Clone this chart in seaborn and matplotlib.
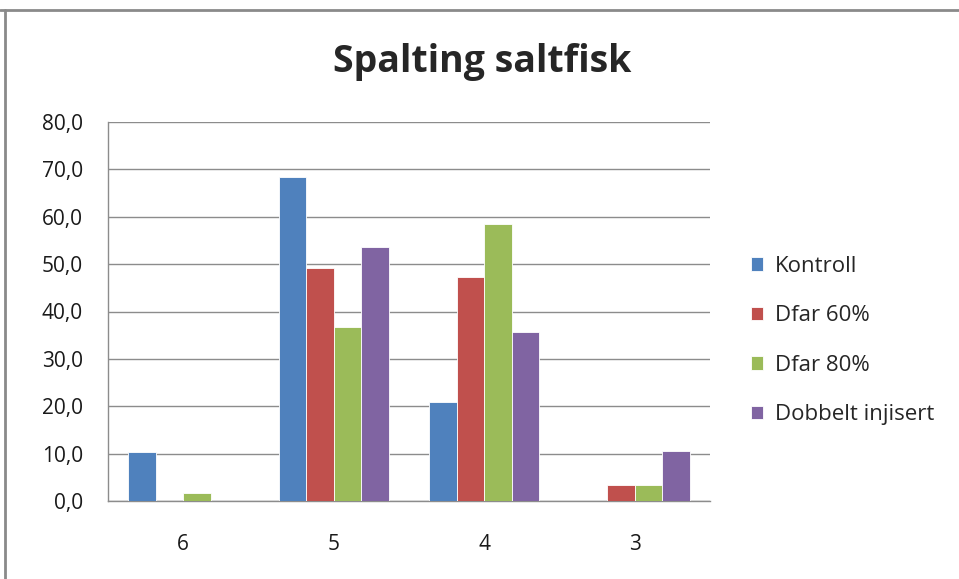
import numpy as np
import pandas as pd
import matplotlib.pyplot as plt
import seaborn as sns
from matplotlib.lines import Line2D
from matplotlib.ticker import FuncFormatter

sns.set_theme(style="white")
plt.rcParams['font.family'] = ['Open Sans', 'DejaVu Sans']

# values
categories = ["6", "5", "4", "3"]
kontroll = [10.4, 68.4, 20.9, 0.0]
dfar60 = [0.0, 49.1, 47.2, 3.3]
dfar80 = [1.6, 36.7, 58.4, 3.3]
dobbelt = [0.0, 53.6, 35.6, 10.6]
series_names = ["Kontroll", "Dfar 60%", "Dfar 80%", "Dobbelt injisert"]
colors = ["#4F81BD", "#C0504D", "#9BBB59", "#8064A2"]

rows = []
for name, vals in zip(series_names, [kontroll, dfar60, dfar80, dobbelt]):
    for c, v in zip(categories, vals):
        rows.append({"kategori": c, "verdi": v, "serie": name})
df = pd.DataFrame(rows)

fig = plt.figure(figsize=(9.59, 5.79), dpi=100)
ax = fig.add_axes([108 / 959, 1 - 501 / 579, 602 / 959, 379 / 579])

sns.barplot(data=df, x="kategori", y="verdi", hue="serie", order=categories,
            hue_order=series_names, palette=colors, saturation=1, width=0.73, gap=0,
            edgecolor="white", linewidth=0.6, ax=ax, zorder=3)

ax.set_ylim(0, 80)
ax.set_yticks(np.arange(0, 81, 10))
ax.yaxis.set_major_formatter(FuncFormatter(lambda v, p: f"{v:.1f}".replace(".", ",")))
ax.yaxis.grid(True, color="#8c8c8c", linewidth=1.0, zorder=0)
ax.set_xlabel("")
ax.set_ylabel("")
for s in ["top", "right"]:
    ax.spines[s].set_visible(False)
for s in ["left", "bottom"]:
    ax.spines[s].set_color("#8c8c8c")
    ax.spines[s].set_linewidth(1.0)
ax.tick_params(axis="y", length=0, pad=18, labelsize=15, labelcolor="#1a1a1a")
ax.tick_params(axis="x", length=0, pad=24, labelsize=15, labelcolor="#1a1a1a")

fig.suptitle("Spalting saltfisk", x=0.503, y=1 - 62 / 579, va="center",
             fontsize=27, fontweight="bold")

ax.legend(loc="center left", bbox_to_anchor=(1.053, 0.423), frameon=False,
          fontsize=16, handlelength=0.55, handleheight=0.55, handletextpad=0.55,
          labelspacing=1.28, borderaxespad=0)

# outer frame of the chart area
fig.add_artist(Line2D([0, 1], [1 - 10 / 579, 1 - 10 / 579], color="#8a8a8a", linewidth=2,
                      transform=fig.transFigure))
fig.add_artist(Line2D([5 / 959, 5 / 959], [0, 1 - 10 / 579], color="#8a8a8a", linewidth=2,
                      transform=fig.transFigure))

fig.savefig("out.png", dpi=100)
